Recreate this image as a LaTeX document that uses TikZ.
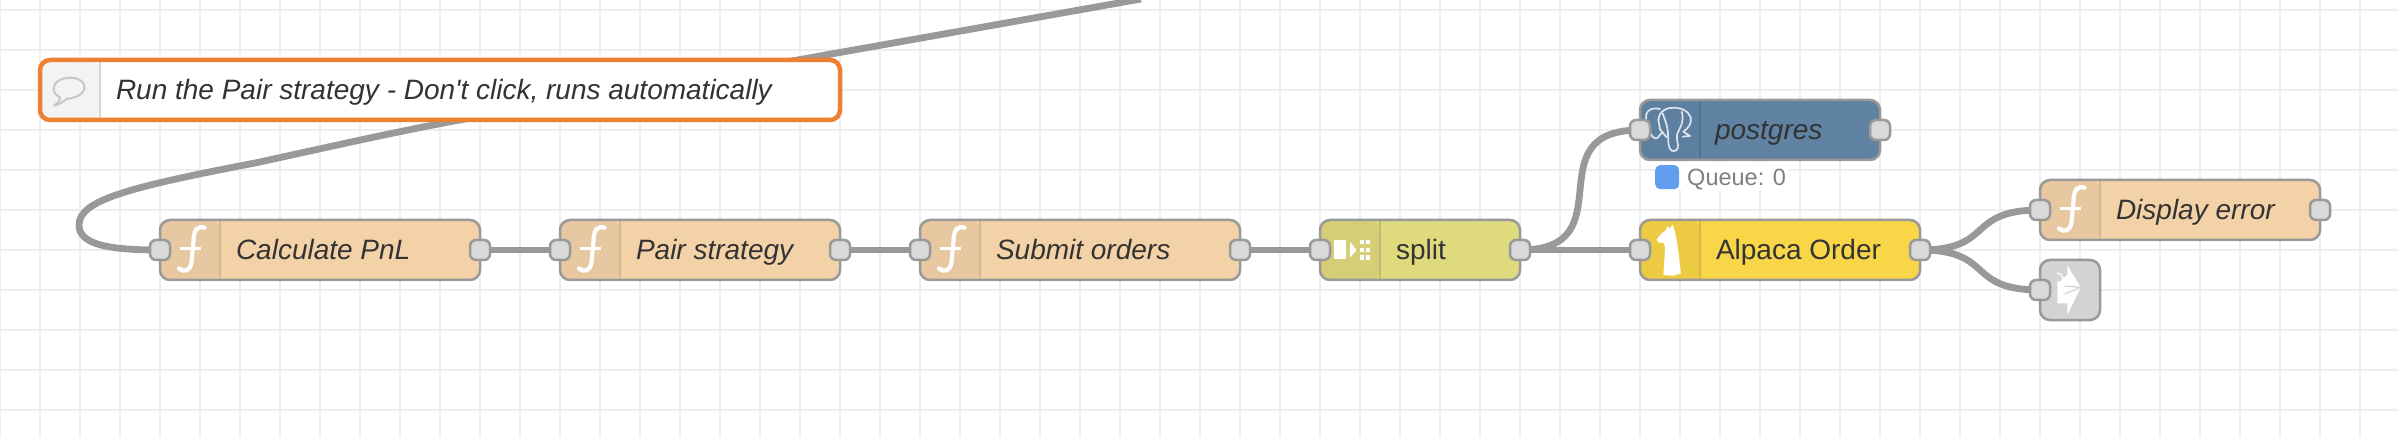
\documentclass[tikz,border=0pt]{standalone}
\usepackage{fontspec}
\setmainfont{Liberation Sans}
\pgfdeclarelayer{gridlayer}
\pgfdeclarelayer{wirelayer}
\pgfsetlayers{gridlayer,wirelayer,main}
\definecolor{gridc}{HTML}{EEEEEE}
\definecolor{wirec}{HTML}{999999}
\definecolor{edgec}{HTML}{999999}
\definecolor{portc}{HTML}{D9D9D9}
\definecolor{textc}{HTML}{333333}
\definecolor{orangec}{HTML}{EE8032}
\definecolor{fnbody}{HTML}{F4D2A8}
\definecolor{fnicon}{HTML}{E8C8A0}
\definecolor{fndiv}{HTML}{D6B892}
\definecolor{splitbody}{HTML}{E0DA7F}
\definecolor{spliticon}{HTML}{D5CE76}
\definecolor{splitdiv}{HTML}{C2BC6E}
\definecolor{pgbody}{HTML}{6083A4}
\definecolor{pgicon}{HTML}{5E80A0}
\definecolor{pgdiv}{HTML}{527190}
\definecolor{apbody}{HTML}{F8D648}
\definecolor{apicon}{HTML}{ECCB42}
\definecolor{apdiv}{HTML}{D6BA45}
\definecolor{linkc}{HTML}{D3D3D3}
\definecolor{statusblue}{HTML}{629EEE}
\definecolor{statustext}{HTML}{808080}
\definecolor{commenticon}{HTML}{F3F3F3}
\definecolor{commentdiv}{HTML}{D6D6D6}
\tikzset{
  x=1bp,y=-1bp,
  flowbox/.style={draw=edgec,line width=2.5bp,rounded corners=10bp,minimum height=60bp,inner sep=0pt,outer sep=0pt,anchor=north west},
  portbox/.style={draw=edgec,fill=portc,line width=2.5bp,rounded corners=6bp,minimum width=20bp,minimum height=20bp,inner sep=0pt,outer sep=0pt},
  wire/.style={draw=wirec,line width=6.8bp},
  labeltext/.style={anchor=base west,inner sep=0pt,outer sep=0pt,text=textc,font=\fontsize{28bp}{32bp}\selectfont},
  italictext/.style={labeltext,font=\fontsize{28bp}{32bp}\selectfont\itshape},
}
% name, x, y, width, body, icon, divider
\newcommand{\flownode}[7]{%
  \node[flowbox,fill=#5,minimum width=#4bp,path picture={
    \fill[#6] (path picture bounding box.north west) rectangle ++(60bp,-60bp);
    \draw[#7,line width=2bp] ([xshift=60bp]path picture bounding box.north west) -- ++(0,-60bp);
  }] (#1) at (#2,#3) {};}
\newcommand{\fglyph}[2]{%
  \begin{scope}[shift={(#1,#2)}]
    \draw[white,line width=4.2bp,line cap=round] (44.5,7.8) .. controls (38,5.5) and (34,9) .. (33.5,20) -- (31.5,42) .. controls (30.5,51) and (24,53) .. (19,48.5);
    \draw[white,line width=3bp] (20,29) -- (41,29);
  \end{scope}}
\begin{document}
\begin{tikzpicture}
\useasboundingbox (0,0) rectangle (2398,438);
\begin{pgfonlayer}{gridlayer}
  \fill[white] (0,0) rectangle (2398,438);
  \foreach \gx in {0,40,...,2390} {\draw[gridc,line width=2bp] (\gx,0) -- (\gx,438);}
  \foreach \gy in {10,50,...,430} {\draw[gridc,line width=2bp] (0,\gy) -- (2398,\gy);}
\end{pgfonlayer}

% function and other nodes
\flownode{calc}{160}{220}{320}{fnbody}{fnicon}{fndiv}
\fglyph{160}{220}
\node[italictext] (calcT) at (236,260) {Calculate PnL};
\flownode{pair}{560}{220}{280}{fnbody}{fnicon}{fndiv}
\fglyph{560}{220}
\node[italictext] (pairT) at (636,260) {Pair strategy};
\flownode{submit}{920}{220}{320}{fnbody}{fnicon}{fndiv}
\fglyph{920}{220}
\node[italictext] (submitT) at (996,260) {Submit orders};
\flownode{split}{1320}{220}{200}{splitbody}{spliticon}{splitdiv}
\begin{scope}[shift={(1300,210)},scale=1/3]
  \fill[white] (103,90) rectangle (137,148);
  \fill[white] (150,95) -- (170,120) -- (150,143) -- cycle;
  \foreach \cx in {180,197} \foreach \cy in {90,113,136} {\fill[white] (\cx,\cy) rectangle ++(13,13);}
\end{scope}
\node[labeltext] (splitT) at (1396,260) {split};
\flownode{pg}{1640}{100}{240}{pgbody}{pgicon}{pgdiv}
\begin{scope}[shift={(1640,100)},scale=1/3,white,line width=1.7bp,line join=round,line cap=round,opacity=.8]
  \draw (60,27) .. controls (40,22) and (24,28) .. (19,42) .. controls (14,58) and (25,85) .. (32,100) .. controls (36,112) and (46,118) .. (52,114) .. controls (58,110) and (60,102) .. (66,98);
  \draw (55,60) .. controls (56,40) and (70,26) .. (92,24) .. controls (120,20) and (145,32) .. (152,52) .. controls (156,70) and (145,85) .. (130,95) -- (150,108) -- (128,110);
  \draw (68,40) .. controls (75,60) and (82,75) .. (84,100) .. controls (85,125) and (84,145) .. (95,152) .. controls (105,156) and (115,150) .. (114,135) .. controls (110,115) and (108,105) .. (116,92) .. controls (125,75) and (132,60) .. (125,35);
  \draw (55,60) -- (60,88) -- (80,112);
\end{scope}
\node[italictext] (pgT) at (1715,140) {postgres};
\flownode{alpaca}{1640}{220}{280}{apbody}{apicon}{apdiv}
\begin{scope}[shift={(1630,210)},scale=1/3]
  \fill[white] (112,48) -- (118,56) -- (128,44) -- (134,62) -- (140,90) -- (146,130) -- (150,170) -- (153,190) -- (130,197) -- (100,195) -- (103,150) -- (105,110) -- (100,98) -- (85,98) -- (80,88) -- (95,70) -- (108,60) -- cycle;
\end{scope}
\node[labeltext] (alpacaT) at (1716,260) {Alpaca Order};
\flownode{display}{2040}{180}{280}{fnbody}{fnicon}{fndiv}
\fglyph{2040}{180}
\node[italictext] (displayT) at (2116,220) {Display error};
\node[flowbox,fill=linkc,minimum width=60bp] (link) at (2040,260) {};
\begin{scope}[shift={(2050,260)},scale=1/3]
  \fill[white] (22,47) -- (52,47) -- (52,15) -- (92,82) -- (52,165) -- (52,130) -- (22,130) -- cycle;
  \fill[linkc] (22,65) arc[start angle=90,end angle=-90,radius=25] -- cycle;
  \draw[white,line width=1.5bp] (22,73) arc[start angle=90,end angle=-90,radius=17];
  \draw[linkc,line width=1.2bp] (44,78) -- (92,82) -- (44,102);
\end{scope}

% comment
\node[flowbox,draw=orangec,line width=4.5bp,fill=white,minimum width=800bp,path picture={
    \fill[commenticon] (path picture bounding box.north west) rectangle ++(60bp,-60bp);
    \draw[commentdiv,line width=2bp] ([xshift=60bp]path picture bounding box.north west) -- ++(0,-60bp);
  }] (note) at (40,60) {};
\begin{scope}[shift={(30,50)},scale=1/3]
  \draw[gray!45,line width=2bp,line join=round] (90,142) .. controls (60,130) and (62,85) .. (120,83) .. controls (180,85) and (180,140) .. (110,147) .. controls (100,155) and (85,165) .. (72,167) .. controls (82,160) and (90,152) .. (90,142) -- cycle;
\end{scope}
\node[italictext] (noteT) at (116,100) {Run the Pair strategy - Don\textquotesingle t click, runs automatically};

% status
\fill[white] (1655,162) rectangle (1788,190);
\node[fill=statusblue,draw=none,rounded corners=5bp,minimum size=24bp,inner sep=0pt,anchor=north west] (qdot) at (1655,165) {};
\node[anchor=base west,inner sep=0pt,text=statustext,font=\fontsize{23.5bp}{26bp}\selectfont] (qtext) at (1687,186) {Queue: 0};

% ports
\node[portbox] (calcIn) at (160,250) {};
\node[portbox] (calcOut) at (480,250) {};
\node[portbox] (pairIn) at (560,250) {};
\node[portbox] (pairOut) at (840,250) {};
\node[portbox] (submitIn) at (920,250) {};
\node[portbox] (submitOut) at (1240,250) {};
\node[portbox] (splitIn) at (1320,250) {};
\node[portbox] (splitOut) at (1520,250) {};
\node[portbox] (pgIn) at (1640,130) {};
\node[portbox] (pgOut) at (1880,130) {};
\node[portbox] (alpacaIn) at (1640,250) {};
\node[portbox] (alpacaOut) at (1920,250) {};
\node[portbox] (displayIn) at (2040,210) {};
\node[portbox] (displayOut) at (2320,210) {};
\node[portbox] (linkIn) at (2040,290) {};
\coordinate (offtop) at (1141,-1);

% wires
\begin{pgfonlayer}{wirelayer}
  \draw[wire] (offtop) -- (454,121) .. controls (380,135) and (320,149) .. (255,163) .. controls (130,187) and (79,200) .. (79,225) .. controls (79,245) and (110,250) .. (calcIn.center);
  \draw[wire] (calcOut.center) -- (pairIn.center);
  \draw[wire] (pairOut.center) -- (submitIn.center);
  \draw[wire] (submitOut.center) -- (splitIn.center);
  \draw[wire] (splitOut.center) .. controls (1628,250) and (1532,130) .. (pgIn.center);
  \draw[wire] (splitOut.center) -- (alpacaIn.center);
  \draw[wire] (alpacaOut.center) .. controls (1995,250) and (1965,210) .. (displayIn.center);
  \draw[wire] (alpacaOut.center) .. controls (1995,250) and (1965,290) .. (linkIn.center);
\end{pgfonlayer}
\end{tikzpicture}
\end{document}
